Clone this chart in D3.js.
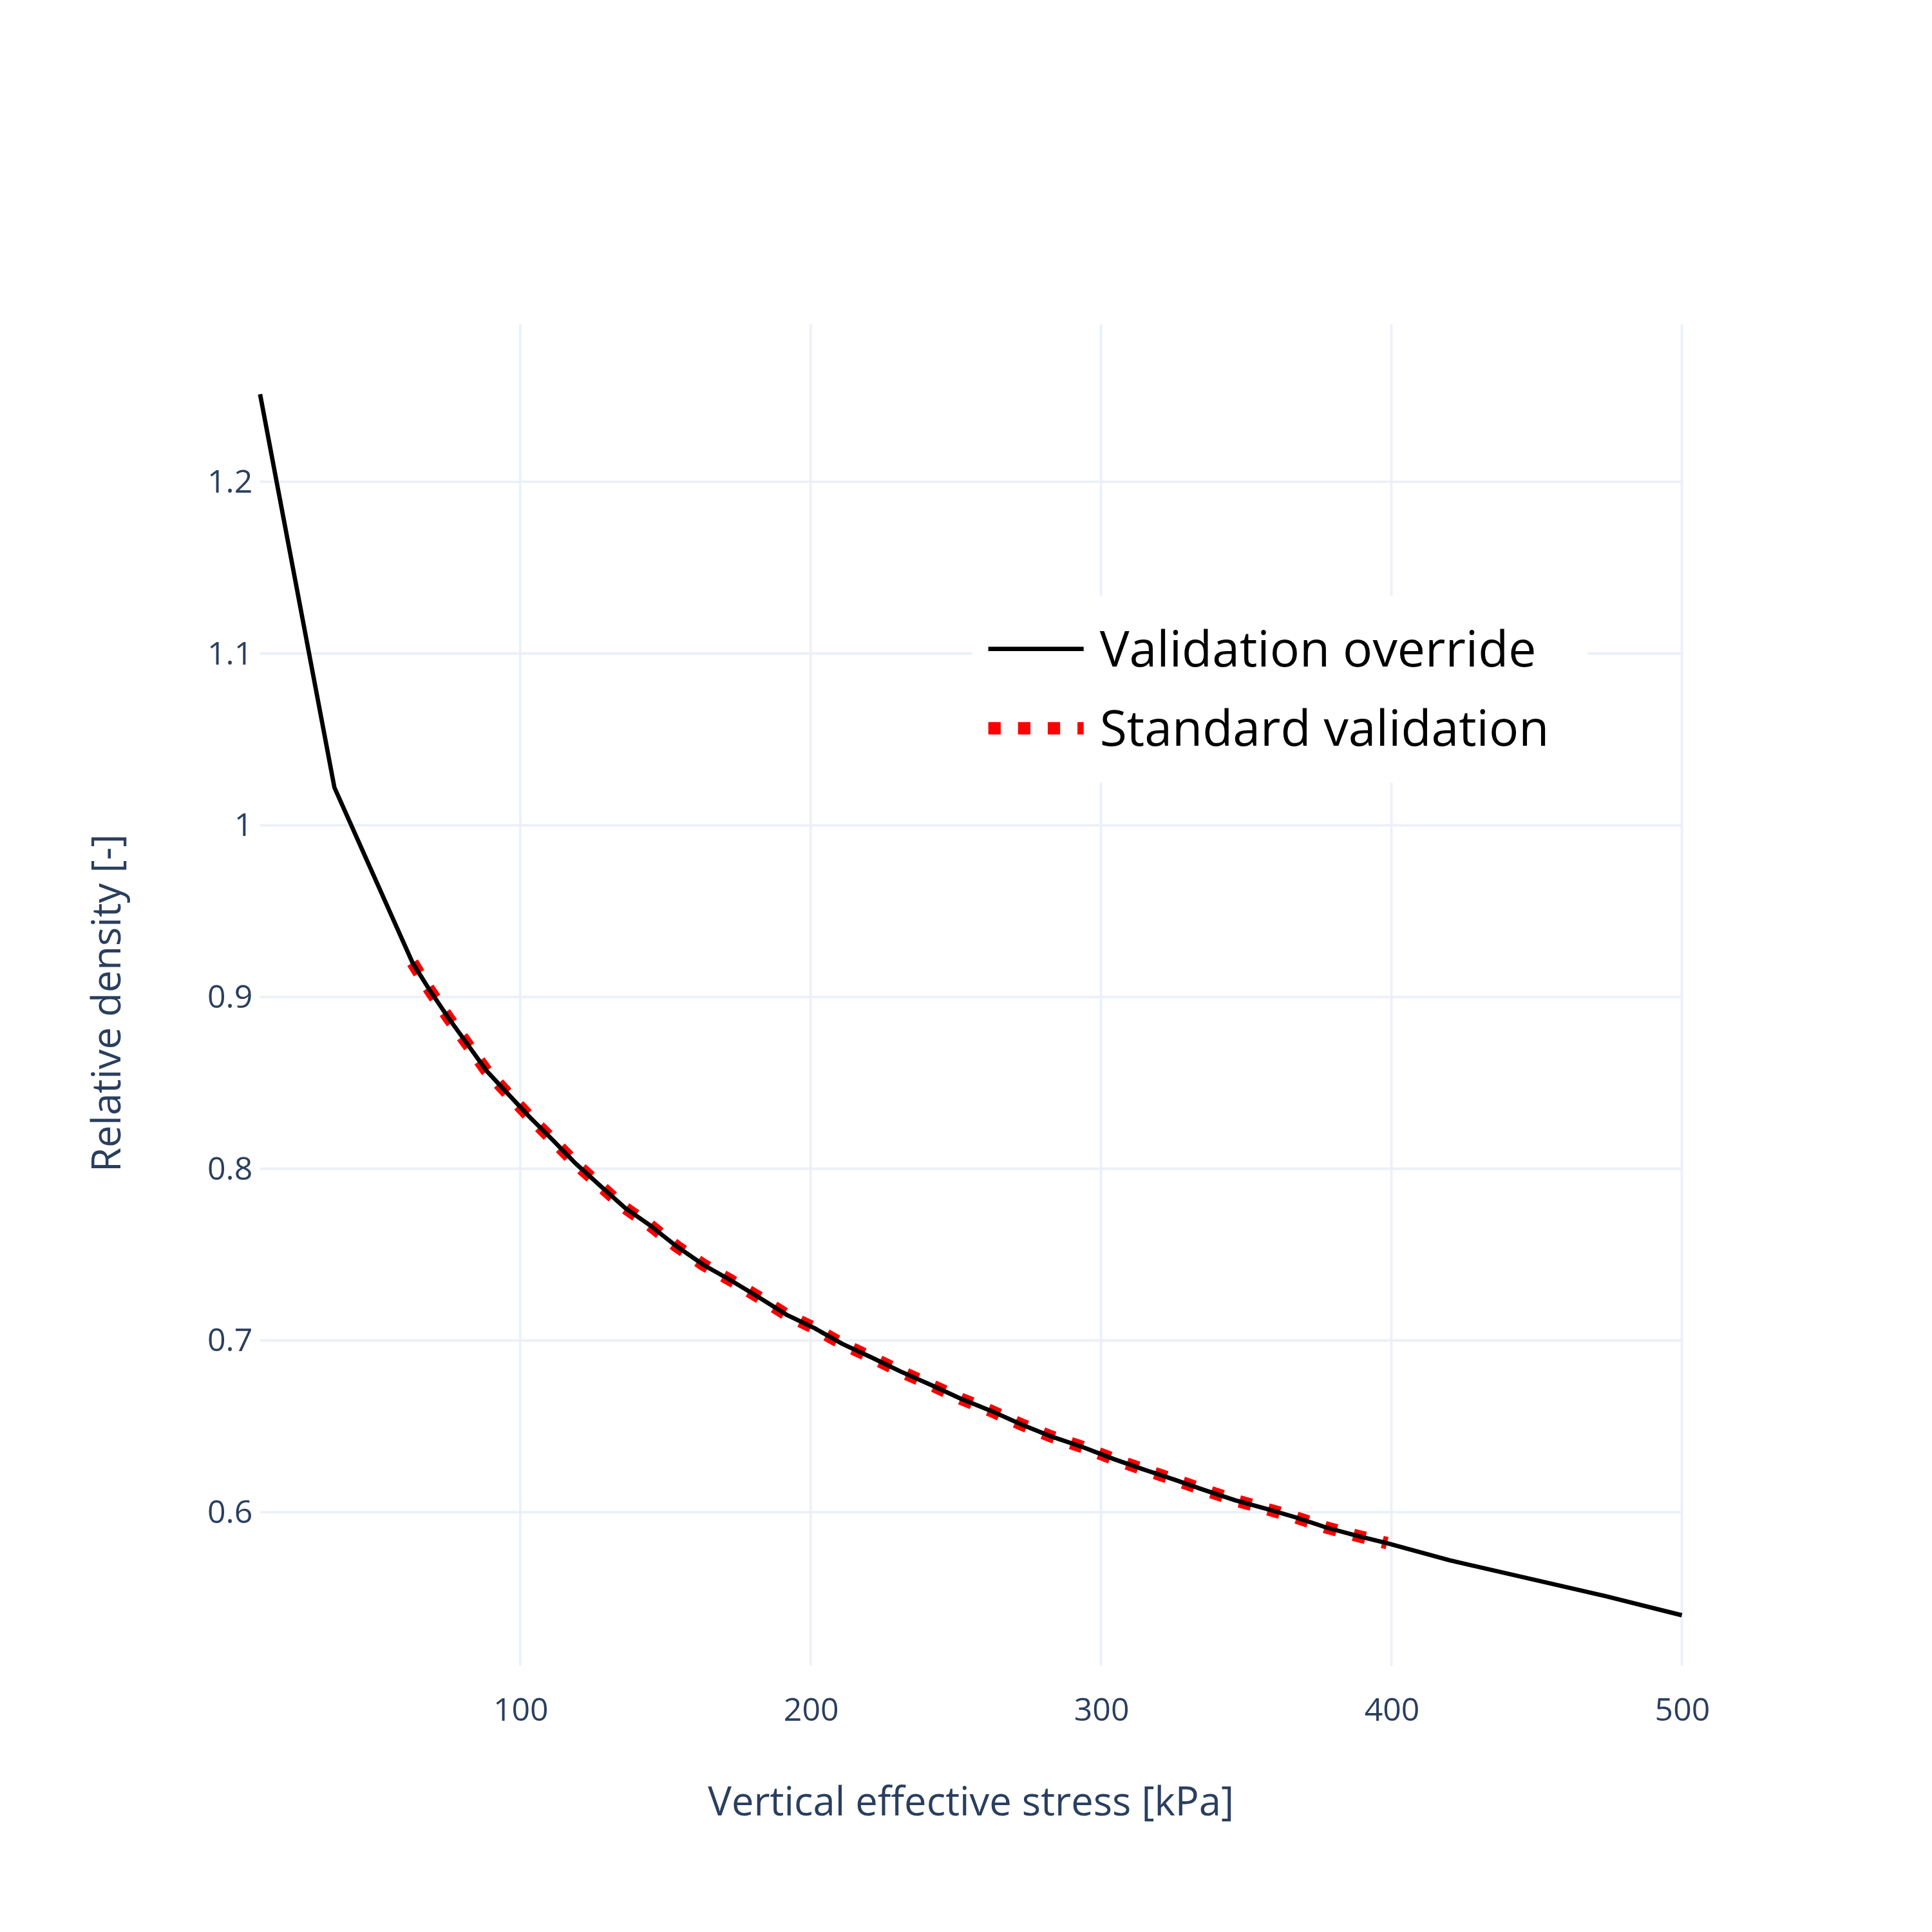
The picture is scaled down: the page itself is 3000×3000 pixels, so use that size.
<!DOCTYPE html>
<html lang="en">
<head>
  <meta charset="UTF-8">
  <title>Relative density vs stress</title>
  <script src="https://d3js.org/d3.v7.min.js"></script>
  <style>
    body { margin: 0; background: #fff; }
    text { font-family: "Open Sans", "Noto Sans", sans-serif; }
  </style>
</head>
<body>
  <svg width="3000" height="3000" viewBox="0 0 1560 1560"></svg>
  <script>
    // values
    const overrideX = [10.4, 36, 62.9, 68.8, 75.2, 81.6, 88.4, 96.1, 103.3, 111.0, 119.1, 127.6, 136.2, 144.7, 153.7, 163.1, 172.5, 182.3, 191.7, 201.5, 210.9, 221.1, 230.9, 241.6, 251.8, 262.1, 272.7, 283.0, 293.6, 304.3, 314.5, 325.2, 335.4, 346.1, 356.8, 367.0, 377.7, 388.8, 398.5, 420, 474, 500];
    const overrideY = [1.251, 1.022, 0.920, 0.904, 0.888, 0.873, 0.857, 0.843, 0.830, 0.817, 0.803, 0.790, 0.777, 0.767, 0.755, 0.744, 0.735, 0.725, 0.715, 0.707, 0.698, 0.690, 0.682, 0.674, 0.666, 0.659, 0.651, 0.644, 0.638, 0.631, 0.625, 0.619, 0.613, 0.607, 0.602, 0.597, 0.591, 0.586, 0.582, 0.572, 0.551, 0.540];
    const standardX = overrideX.slice(2, 39);
    const standardY = overrideY.slice(2, 39);
    const xTicks = [100, 200, 300, 400, 500];
    const yTicks = [0.6, 0.7, 0.8, 0.9, 1, 1.1, 1.2];

    const svg = d3.select("svg");
    svg.append("rect").attr("width", 1560).attr("height", 1560).attr("fill", "#fff");

    const x = d3.scaleLinear().domain([10.4, 500]).range([210, 1358]);
    const y = d3.scaleLinear().domain([0.5106, 1.2916]).range([1345, 262]);

    const grid = svg.append("g").attr("stroke", "#ebf0f8").attr("stroke-width", 2);
    grid.selectAll(".gx").data(xTicks).enter().append("line")
      .attr("x1", d => x(d)).attr("x2", d => x(d)).attr("y1", 262).attr("y2", 1345);
    grid.selectAll(".gy").data(yTicks).enter().append("line")
      .attr("y1", d => y(d)).attr("y2", d => y(d)).attr("x1", 210).attr("x2", 1358);

    const xAxis = svg.append("g").attr("transform", "translate(0,1345)")
      .call(d3.axisBottom(x).tickValues(xTicks).tickSize(0).tickPadding(26));
    const yAxis = svg.append("g").attr("transform", "translate(210,0)")
      .call(d3.axisLeft(y).tickValues(yTicks).tickSize(0).tickPadding(6).tickFormat(d3.format("")));
    [xAxis, yAxis].forEach(a => {
      a.select(".domain").remove();
      a.selectAll("text").attr("fill", "#2a3f5f").attr("font-size", 26)
        .attr("font-family", "'Open Sans', sans-serif");
    });

    svg.append("text").attr("x", 784).attr("y", 1466).attr("text-anchor", "middle")
      .attr("fill", "#2a3f5f").attr("font-size", 32).text("Vertical effective stress [kPa]");
    svg.append("text").attr("transform", "translate(97,810) rotate(-90)").attr("text-anchor", "middle")
      .attr("fill", "#2a3f5f").attr("font-size", 32).text("Relative density [-]");

    const line = d3.line().x(d => x(d[0])).y(d => y(d[1]));
    const std = d3.zip(standardX, standardY);
    const ovr = d3.zip(overrideX, overrideY);

    svg.append("path").datum(std).attr("d", line).attr("fill", "none")
      .attr("stroke", "red").attr("stroke-width", 10).attr("stroke-dasharray", "10,14");
    svg.append("path").datum(ovr).attr("d", line).attr("fill", "none")
      .attr("stroke", "black").attr("stroke-width", 3.5);

    // legend
    const lg = svg.append("g");
    lg.append("rect").attr("x", 785).attr("y", 481).attr("width", 497).attr("height", 151).attr("fill", "#fff");
    lg.append("line").attr("x1", 798).attr("x2", 875).attr("y1", 524).attr("y2", 524)
      .attr("stroke", "black").attr("stroke-width", 3.5);
    lg.append("line").attr("x1", 798).attr("x2", 875).attr("y1", 588).attr("y2", 588)
      .attr("stroke", "red").attr("stroke-width", 10).attr("stroke-dasharray", "10,14");
    lg.append("text").attr("x", 888).attr("y", 538).attr("font-size", 40).attr("fill", "#000").text("Validation override");
    lg.append("text").attr("x", 888).attr("y", 602).attr("font-size", 40).attr("fill", "#000").text("Standard validation");
  </script>
</body>
</html>
